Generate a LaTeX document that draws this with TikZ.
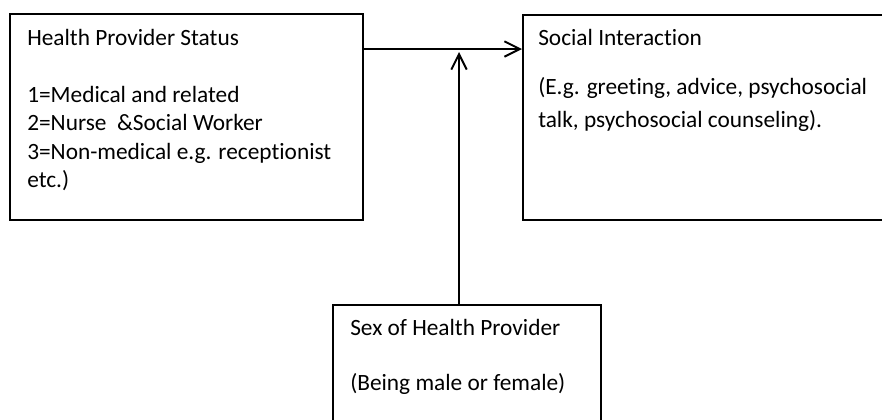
\documentclass[tikz,border=0pt]{standalone}
\usepackage{fontspec}
\setmainfont[Ligatures={NoCommon}]{Carlito}
\usetikzlibrary{arrows.meta}
\tikzset{
  box/.style={draw=black, line width=1.5pt, rectangle, inner sep=0pt, anchor=north west},
  txt/.style={anchor=base west, inner sep=0pt, font=\fontsize{17.5}{21}\selectfont},
  conn/.style={line width=1.5pt, -{Straight Barb[length=11.5pt,width=11.5pt,line width=1.5pt]}}
}
\begin{document}
\begin{tikzpicture}[x=0.75pt,y=-0.75pt]
\useasboundingbox (0,0) rectangle (882,419);
% boxes
\node[box, minimum width=353*0.75pt, minimum height=206*0.75pt] (b1) at (9,13) {};
\node[box, minimum width=400*0.75pt, minimum height=205*0.75pt] (b2) at (522,14) {};
\node[box, minimum width=268*0.75pt, minimum height=160*0.75pt] (b3) at (332,304) {};
% texts box 1
\node[txt] (t1a) at (27,45) {Health Provider Status};
\node[txt] (t1b) at (27,102) {1=Medical and related};
\node[txt] (t1c) at (27,130.5) {2=Nurse\ \ \&Social Worker};
\node[txt] (t1d) at (27,159) {3=Non-medical e.g. receptionist};
\node[txt] (t1e) at (27,187.5) {etc.)};
% texts box 2
\node[txt] (t2a) at (538,45) {Social Interaction};
\node[txt] (t2b) at (538,94) {(E.g. greeting, advice, psychosocial};
\node[txt] (t2c) at (538,127) {talk, psychosocial counseling).};
% texts box 3
\node[txt] (t3a) at (350,335) {Sex of Health Provider};
\node[txt] (t3b) at (350,390) {(Being male or female)};
% connectors
\coordinate (h1) at (b1.east |- 0,49);
\coordinate (h2) at (b2.west |- 0,49);
\coordinate (vtop) at (459,52);
\coordinate (vbot) at (vtop |- b3.north);
\draw[conn] (h1) -- (h2);
\draw[conn] (vbot) -- (vtop);
\end{tikzpicture}
\end{document}
